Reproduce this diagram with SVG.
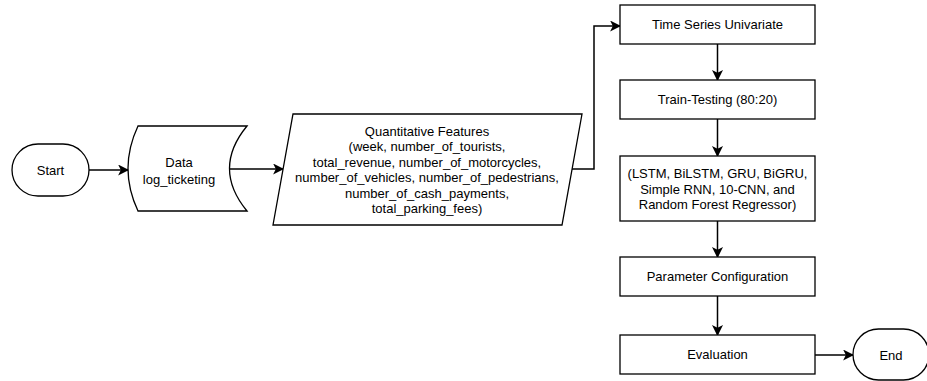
<svg xmlns="http://www.w3.org/2000/svg" width="927" height="381" viewBox="0 0 927 381">
<defs>
<marker id="arr" viewBox="0 0 10 10" refX="9" refY="5" markerWidth="11" markerHeight="11" markerUnits="userSpaceOnUse" orient="auto">
<path d="M0,0 L10,5 L0,10 L2.5,5 Z" fill="#000"/>
</marker>
<style>
.s{fill:#fff;stroke:#000;stroke-width:1.3}
.c{fill:none;stroke:#000;stroke-width:1.5;marker-end:url(#arr)}
text{font-family:"Liberation Sans",Arial,sans-serif;font-size:13px;fill:#000;text-anchor:middle}
</style>
</defs>
<rect width="927" height="381" fill="#fff"/>
<g id="connectors">
<path class="c" d="M89,170 H128"/>
<path class="c" d="M220,169 H283"/>
<path class="c" d="M571,169 H594 V26 H620"/>
<path class="c" d="M717.5,44 V80"/>
<path class="c" d="M717.5,119 V156"/>
<path class="c" d="M717.5,221 V257"/>
<path class="c" d="M717.5,296 V335"/>
<path class="c" d="M815,355 H853"/>
</g>
<g id="start">
<rect class="s" x="12" y="144" width="77" height="52" rx="26" ry="26"/>
<text x="50.5" y="174.5">Start</text>
</g>
<g id="data">
<path class="s" d="M138,126 H247 Q212,168.5 247,211 H138 Q118,168.5 138,126 Z"/>
<text x="179" y="167">Data</text>
<text x="179" y="183.5">log_ticketing</text>
</g>
<g id="features">
<path class="s" d="M293,114 H582 L562,225 H273 Z"/>
<text x="427" y="135.5">Quantitative Features</text>
<text x="427" y="151">(week, number_of_tourists,</text>
<text x="427" y="166.5">total_revenue, number_of_motorcycles,</text>
<text x="427" y="182">number_of_vehicles, number_of_pedestrians,</text>
<text x="427" y="197.5">number_of_cash_payments,</text>
<text x="427" y="213">total_parking_fees)</text>
</g>
<g id="timeseries">
<rect class="s" x="620" y="5" width="195" height="39"/>
<text x="717.5" y="29">Time Series Univariate</text>
</g>
<g id="traintest">
<rect class="s" x="620" y="80" width="195" height="39"/>
<text x="717.5" y="104">Train-Testing (80:20)</text>
</g>
<g id="models">
<rect class="s" x="620" y="156" width="195" height="65"/>
<text x="717.5" y="177.5">(LSTM, BiLSTM, GRU, BiGRU,</text>
<text x="717.5" y="193.5">Simple RNN, 10-CNN, and</text>
<text x="717.5" y="209">Random Forest Regressor)</text>
</g>
<g id="params">
<rect class="s" x="620" y="257" width="195" height="39"/>
<text x="717.5" y="281">Parameter Configuration</text>
</g>
<g id="evaluation">
<rect class="s" x="620" y="335" width="195" height="39"/>
<text x="717.5" y="359">Evaluation</text>
</g>
<g id="end">
<rect class="s" x="853" y="329" width="76" height="51" rx="25.5" ry="25.5"/>
<text x="891" y="359.5">End</text>
</g>
</svg>
